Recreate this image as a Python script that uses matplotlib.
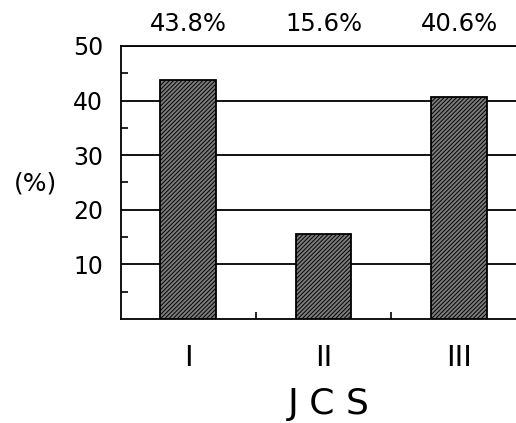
import matplotlib
matplotlib.use("Agg")
import matplotlib.pyplot as plt

categories = ["I", "II", "III"]
values = [43.8, 15.6, 40.6]
pct_labels = ["43.8%", "15.6%", "40.6%"]
yticks = [10, 20, 30, 40, 50]

plt.rcParams['hatch.color'] = 'black'
plt.rcParams['hatch.linewidth'] = 0.7
plt.rcParams['font.family'] = ['DejaVu Sans']

fig = plt.figure(figsize=(5.16, 4.23), dpi=100)
ax = fig.add_axes([0.2345, 0.2459, 0.7655, 0.6454])

x = list(range(len(categories)))
for xi in yticks:
    ax.axhline(xi, color='black', lw=1.3, zorder=1)
ax.bar(x, values, width=0.41, facecolor='#7c7c7c', edgecolor='black',
       hatch='////////', linewidth=1.3, zorder=2)

ax.set_xlim(-0.494, 2.42)
ax.set_ylim(0, 50)
ax.set_yticks(yticks)
ax.set_yticklabels([str(v) for v in yticks], fontsize=17)
ax.set_yticks([5, 15, 25, 35, 45], minor=True)
ax.tick_params(axis='y', which='both', direction='in', length=5, width=1.2, pad=13)
ax.tick_params(axis='y', which='major', length=0)

ax.set_xticks(x)
ax.set_xticklabels(categories, fontsize=21)
ax.set_xticks([0.5, 1.5], minor=True)
ax.tick_params(axis='x', which='major', length=0, pad=18)
ax.tick_params(axis='x', which='minor', direction='in', length=5, width=1.2)

for s in ['right']:
    ax.spines[s].set_visible(False)
for s in ['left', 'bottom', 'top']:
    ax.spines[s].set_linewidth(1.3)

for xi, lab in zip(x, pct_labels):
    ax.text(xi, 1.035, lab, transform=ax.get_xaxis_transform(),
            ha='center', va='bottom', fontsize=17.5)

fig.text(35/516, 1 - 183/423, "(%)", ha='center', va='center', fontsize=18)
fig.text(329/516, 1 - 404/423, "J C S", ha='center', va='center', fontsize=26)

fig.savefig("out.png", dpi=100)
